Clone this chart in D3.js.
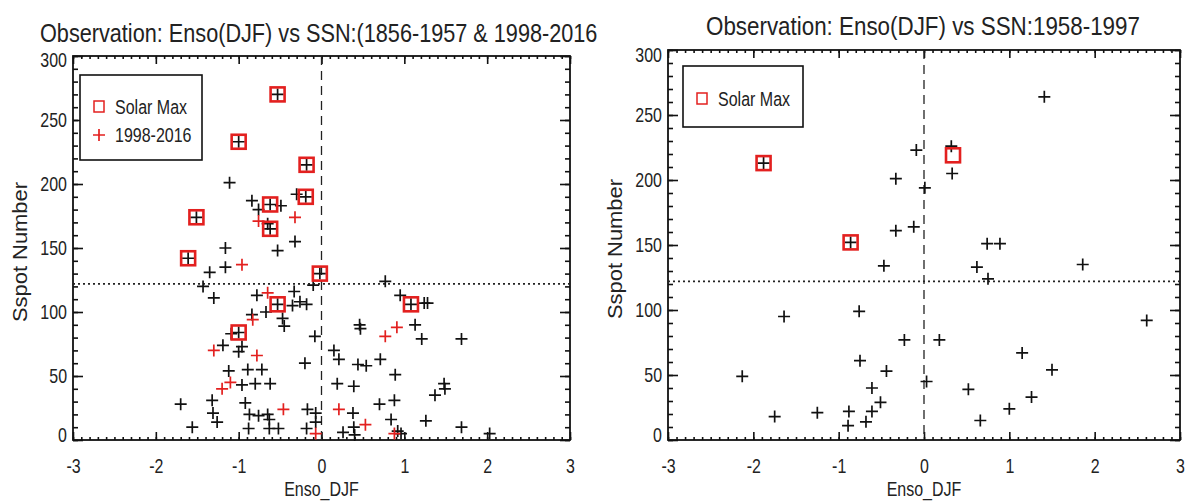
<!DOCTYPE html>
<html>
<head>
<meta charset="utf-8">
<script src="https://cdn.jsdelivr.net/npm/d3@7"></script>
<style>
  body { margin: 0; background: #fff; }
  svg text { font-family: "Liberation Sans Narrow", "Arial Narrow", "Liberation Sans", sans-serif; fill: #222; }
</style>
</head>
<body>
<svg id="chart" width="1190" height="504"></svg>
<script>
// ---- data ----
const xTicks = [-3, -2, -1, 0, 1, 2, 3];
const yTicks = [0, 50, 100, 150, 200, 250, 300];
const meanSsn = 122;

// left panel, 1856-1957 (black)
const leftEnso = [-1.11, -0.84, -0.76, -0.65, -0.30, -0.49, -0.32, -1.16, -0.53,
  -0.53, -1.00, -0.18, -1.51, -0.62, -0.19, -0.62, -1.61, -0.02, -0.53, 1.08, -1.00,
  -1.16, -1.35, -1.43, -1.30, -0.78, -0.33, -0.35, -0.26, -0.18, -0.67, -0.84, -0.47,
  -0.45, -0.08, -1.09, -1.19, -0.96, -1.00, -0.20, -1.12, -0.89, -0.72, -0.96, -0.80,
  -0.62, -1.32, -1.70, -1.31, -1.26, -1.56, -0.92, -0.87, -0.76, -0.65, -0.63, -0.88,
  -0.63, -0.52, -0.17, -0.07, -0.07, -0.18,
  -0.10, 0.77, 0.95, 1.24, 1.28, 0.46, 0.47, 1.13, 1.21, 1.69, 0.15, 0.21, 0.44, 0.54,
  0.71, 0.89, 0.19, 0.39, 1.48, 1.49, 1.37, 0.88, 0.70, 0.38, 0.84, 1.26, 0.39, 0.26,
  0.40, 0.92, 0.96, 1.69, 2.03];
const leftSsn = [201, 187, 180, 169, 192, 183, 155, 150, 148,
  270, 233, 215, 174, 184, 190, 165, 142, 130, 106, 106, 84,
  135, 131, 120, 111, 113, 116, 105, 108, 106, 100, 98, 95,
  89, 81, 83, 74, 73, 69, 60, 54, 55, 55, 43, 44,
  44, 31, 28, 21, 14, 10, 29, 20, 19, 20, 16, 9,
  9, 9, 24, 21, 14, 9,
  121, 124, 113, 107, 107, 90, 87, 90, 79, 79, 70, 63, 59, 58,
  63, 51, 44, 42, 44, 40, 35, 31, 28, 21, 16, 15, 10, 6,
  4, 7, 5, 10, 5];

// left panel, 1998-2016 (red)
const redEnso = [-0.76, -0.32, -0.96, -0.65, -0.83, -1.30, -0.78, -1.10, -1.20, -0.46,
  -0.07, 0.91, 0.77, 0.21, 0.53, 0.88];
const redSsn = [171, 174, 137, 115, 94, 70, 66, 45, 40, 24, 5, 88, 81, 24, 12, 5];

// left panel, solar max years
const leftMaxEnso = [-0.53, -1.00, -0.18, -1.51, -0.62, -0.19, -0.62, -1.61, -0.02, -0.53, 1.08, -1.00];
const leftMaxSsn = [270, 233, 215, 174, 184, 190, 165, 142, 130, 106, 106, 84];

// right panel, 1958-1997
const rightEnso = [-1.88, -0.86, 0.32, -0.09, -0.33, 0.01, -0.33, -0.12, 0.33, 1.41,
  0.74, 0.89, 0.62, 0.75, 1.86, 2.61, 0.18, 1.15, 1.50, 0.03, 0.52, 1.26, 1.00, 0.66,
  -0.47, -1.64, -0.76, -0.23, -0.75, -0.44, -2.13, -0.61, -0.51, -0.61, -0.88, -1.25,
  -1.75, -0.68, -0.89];
const rightSsn = [213, 152, 226, 223, 201, 194, 161, 164, 205, 264,
  151, 151, 133, 124, 135, 92, 77, 67, 54, 45, 39, 33, 24, 15,
  134, 95, 99, 77, 61, 53, 49, 40, 29, 22, 22, 21,
  18, 14, 11];

const rightMaxEnso = [-1.88, -0.86, 0.34];
const rightMaxSsn = [213, 152, 219];

// ---- drawing ----
const svg = d3.select("#chart");
const red = "#e3201f";
const plusPath = "M-6,0H6M0,-6V6";

// no narrow font here, so squeeze the regular one
function condense(sel, k) {
  sel.each(function () {
    const w = this.getComputedTextLength();
    d3.select(this).attr("textLength", w * k).attr("lengthAdjust", "spacingAndGlyphs");
  });
}

function drawPanel(p) {
  const x = d3.scaleLinear().domain([-3, 3]).range([p.left, p.right]);
  const y = d3.scaleLinear().domain([0, 300]).range([p.bottom, p.top]);
  const g = svg.append("g");

  const xMinor = d3.range(-30, 31).map(d => d / 10);
  const yMinor = d3.range(0, 301, 10);

  // minor ticks
  g.append("g").attr("transform", `translate(0,${p.bottom})`)
    .call(d3.axisBottom(x).tickValues(xMinor).tickSize(-3).tickFormat(""));
  g.append("g").attr("transform", `translate(0,${p.top})`)
    .call(d3.axisTop(x).tickValues(xMinor).tickSize(-3).tickFormat(""));
  g.append("g").attr("transform", `translate(${p.left},0)`)
    .call(d3.axisLeft(y).tickValues(yMinor).tickSize(-5).tickFormat(""));
  g.append("g").attr("transform", `translate(${p.right},0)`)
    .call(d3.axisRight(y).tickValues(yMinor).tickSize(-5).tickFormat(""));

  // major ticks + labels
  g.append("g").attr("class", "xlab").attr("transform", `translate(0,${p.bottom})`)
    .call(d3.axisBottom(x).tickValues(xTicks).tickSize(-8).tickPadding(18).tickFormat(d => String(d)));
  g.append("g").attr("transform", `translate(0,${p.top})`)
    .call(d3.axisTop(x).tickValues(xTicks).tickSize(-8).tickFormat(""));
  g.append("g").attr("class", "ylab").attr("transform", `translate(${p.left},0)`)
    .call(d3.axisLeft(y).tickValues(yTicks).tickSize(-10).tickPadding(6).tickFormat(d => String(d)));
  g.append("g").attr("transform", `translate(${p.right},0)`)
    .call(d3.axisRight(y).tickValues(yTicks).tickSize(-10).tickFormat(""));

  g.selectAll(".domain").remove();
  g.selectAll(".tick line").attr("stroke", "#111").attr("stroke-width", 1.6);
  g.selectAll(".tick text").attr("font-size", 21).attr("fill", "#222")
    .style("font-family", '"Liberation Sans Narrow","Arial Narrow","Liberation Sans",sans-serif');
  g.selectAll(".ylab .tick text").filter(d => d === 0).attr("dy", "0.05em");
  g.selectAll(".ylab .tick text").filter(d => d === 300).attr("dy", p.topLabelDy);
  condense(g.selectAll(".tick text"), 0.76);

  // frame
  g.append("rect")
    .attr("x", p.left).attr("y", p.top)
    .attr("width", p.right - p.left).attr("height", p.bottom - p.top)
    .attr("fill", "none").attr("stroke", "#111").attr("stroke-width", 1.8);

  // reference lines
  g.append("line")
    .attr("x1", x(0)).attr("x2", x(0)).attr("y1", p.top).attr("y2", p.bottom)
    .attr("stroke", "#222").attr("stroke-width", 1.3).attr("stroke-dasharray", "9,6");
  g.append("line")
    .attr("x1", p.left).attr("x2", p.right).attr("y1", y(meanSsn)).attr("y2", y(meanSsn))
    .attr("stroke", "#222").attr("stroke-width", 1.6).attr("stroke-dasharray", "2,3");

  // black points
  g.selectAll(".blk").data(d3.zip(p.enso, p.ssn)).join("path")
    .attr("class", "blk")
    .attr("d", plusPath)
    .attr("transform", d => `translate(${x(d[0])},${y(d[1])})`)
    .attr("stroke", "#111").attr("stroke-width", 1.7).attr("fill", "none");

  // red points
  if (p.redEnso) {
    g.selectAll(".rd").data(d3.zip(p.redEnso, p.redSsn)).join("path")
      .attr("class", "rd")
      .attr("d", plusPath)
      .attr("transform", d => `translate(${x(d[0])},${y(d[1])})`)
      .attr("stroke", red).attr("stroke-width", 1.7).attr("fill", "none");
  }

  // solar max squares
  g.selectAll(".mx").data(d3.zip(p.maxEnso, p.maxSsn)).join("rect")
    .attr("class", "mx")
    .attr("x", d => x(d[0]) - 7).attr("y", d => y(d[1]) - 7)
    .attr("width", 14).attr("height", 14)
    .attr("fill", "none").attr("stroke", red).attr("stroke-width", 2.6);

  // title: scale horizontally so the box really is the drawn width
  const tt = svg.append("text")
    .attr("font-size", 25)
    .text(p.title);
  const kx = p.titleLen / tt.node().getComputedTextLength();
  tt.attr("transform", `translate(${p.titleX},${p.titleY}) scale(${kx},1)`);

  const xl = svg.append("text")
    .attr("x", x(0)).attr("y", 496)
    .attr("text-anchor", "middle").attr("font-size", 20)
    .text("Enso_DJF");
  condense(xl, 0.8);

  svg.append("text")
    .attr("transform", `translate(${p.ylabX},${(p.top + p.bottom) / 2 + 4}) rotate(-90)`)
    .attr("text-anchor", "middle").attr("font-size", 20)
    .attr("textLength", 140).attr("lengthAdjust", "spacingAndGlyphs")
    .text("Sspot Number");

  // legend
  const L = p.legend;
  g.append("rect")
    .attr("x", L.x).attr("y", L.y).attr("width", L.w).attr("height", L.h)
    .attr("fill", "#fff").attr("stroke", "#111").attr("stroke-width", 1.6);
  L.items.forEach((it, i) => {
    const cy = L.y + L.first + i * 28;
    const cx = L.x + 19;
    if (it.kind === "square") {
      g.append("rect").attr("x", cx - 5).attr("y", cy - 6).attr("width", 10).attr("height", 11)
        .attr("fill", "none").attr("stroke", red).attr("stroke-width", 1.5);
    } else {
      g.append("path").attr("d", plusPath)
        .attr("transform", `translate(${cx},${cy})`)
        .attr("stroke", red).attr("stroke-width", 1.7);
    }
    const t = g.append("text").attr("x", cx + 16).attr("y", cy + 7)
      .attr("font-size", 20).text(it.label);
    condense(t, 0.8);
  });
}

drawPanel({
  left: 73, right: 570, top: 56, bottom: 440,
  enso: leftEnso, ssn: leftSsn,
  redEnso: redEnso, redSsn: redSsn,
  maxEnso: leftMaxEnso, maxSsn: leftMaxSsn,
  title: "Observation: Enso(DJF) vs SSN:(1856-1957 & 1998-2016",
  titleX: 40, titleY: 42, titleLen: 558,
  topLabelDy: "0.5em",
  ylabX: 27,
  legend: { x: 80, y: 75, w: 122, h: 85, first: 32,
    items: [{ kind: "square", label: "Solar Max" }, { kind: "plus", label: "1998-2016" }] }
});

drawPanel({
  left: 668, right: 1180, top: 50, bottom: 440,
  enso: rightEnso, ssn: rightSsn,
  maxEnso: rightMaxEnso, maxSsn: rightMaxSsn,
  title: "Observation: Enso(DJF) vs SSN:1958-1997",
  titleX: 706, titleY: 35, titleLen: 434,
  topLabelDy: "0.55em",
  ylabX: 622,
  legend: { x: 683, y: 66, w: 120, h: 61, first: 33,
    items: [{ kind: "square", label: "Solar Max" }] }
});
</script>
</body>
</html>
